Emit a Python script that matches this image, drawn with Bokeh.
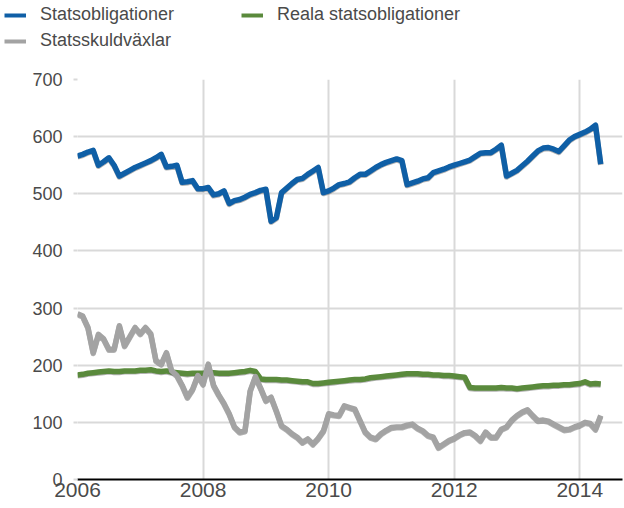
import numpy as np
from bokeh.plotting import figure
from bokeh.layouts import column
from bokeh.models import ColumnDataSource, FixedTicker, Legend, LegendItem, Range1d
from bokeh.transform import dodge
from bokeh.embed import file_html
from bokeh.resources import INLINE

start_year = 2006

statsobligationer = [
    566, 569, 573, 576, 550, 556, 563, 550, 531, 536,
    541, 546, 550, 554, 558, 563, 569, 547, 548, 550,
    520, 521, 523, 509, 509, 511, 498, 500, 505, 483,
    488, 490, 494, 499, 502, 506, 508, 452, 458, 502,
    510, 518, 525, 527, 534, 540, 546, 502, 505, 510,
    516, 518, 521, 528, 534, 534, 540, 546, 551, 555,
    558, 561, 558, 516, 519, 522, 526, 528, 537, 540,
    543, 547, 550, 553, 556, 559, 565, 571, 572, 572,
    578, 585, 531, 536, 541, 549, 557, 566, 575, 580,
    581, 578, 574, 584, 594, 600, 604, 608, 613, 620,
    552]

reala_statsobligationer = [
    183, 184, 186, 187, 188, 189, 190, 189, 189, 190,
    190, 190, 191, 191, 192, 190, 189, 190, 188, 187,
    186, 185, 186, 186, 186, 187, 187, 186, 186, 186,
    187, 188, 189, 191, 189, 176, 175, 175, 175, 174,
    174, 173, 172, 171, 171, 168, 168, 169, 170, 171,
    172, 173, 174, 175, 175, 176, 178, 179, 180, 181,
    182, 183, 184, 185, 185, 185, 184, 184, 183, 183,
    182, 182, 181, 180, 179, 161, 160, 160, 160, 160,
    160, 161, 160, 160, 159, 160, 161, 162, 163, 164,
    164, 165, 165, 166, 166, 167, 168, 171, 167, 168,
    167]

statsskuldvaxlar = [
    290, 286, 266, 222, 254, 246, 228, 228, 269, 234,
    250, 266, 255, 266, 255, 208, 202, 222, 190, 182,
    165, 144, 158, 182, 167, 202, 165, 148, 133, 115,
    92, 83, 85, 155, 180, 160, 138, 144, 120, 94,
    88, 80, 74, 65, 71, 62, 72, 85, 115, 113,
    112, 129, 126, 123, 103, 83, 74, 71, 80, 86,
    91, 92, 92, 95, 97, 90, 85, 77, 74, 56,
    62, 68, 72, 78, 82, 83, 77, 68, 83, 74,
    74, 88, 92, 104, 112, 118, 122, 112, 103, 104,
    102, 97, 92, 87, 88, 92, 95, 100, 98, 88,
    112]

x_ticks = [2006, 2008, 2010, 2012, 2014]
y_ticks = [0, 100, 200, 300, 400, 500, 600, 700]

series_names = ["Statsobligationer", "Reala statsobligationer", "Statsskuldväxlar"]
series_colors = ["#0f5fa6", "#5a8a3c", "#a3a3a3"]

months = np.arange(len(statsobligationer))
x = start_year + months / 12.0

FONT = "Liberation Sans"
TEXT = "#4a4a4a"

# ---------------- main chart ----------------
p = figure(width=624, height=453, output_backend="svg", toolbar_location=None,
           x_range=Range1d(2006, 2014.68), y_range=Range1d(0, 700),
           min_border_left=77, min_border_right=2, min_border_top=24, min_border_bottom=29)
p.outline_line_color = None
p.background_fill_color = "white"
p.border_fill_color = "white"

for name, vals, col in [("Reala statsobligationer", reala_statsobligationer, series_colors[1]),
                        ("Statsskuldväxlar", statsskuldvaxlar, series_colors[2]),
                        ("Statsobligationer", statsobligationer, series_colors[0])]:
    src = ColumnDataSource(dict(x=x, y=vals))
    p.line(x="x", y=dodge("y", -1.6, range=p.y_range), source=src,
           line_color="#555555", line_alpha=0.45, line_width=5.5, line_join="round")
    p.line(x="x", y="y", source=src, line_color=col, line_width=5.5, line_join="round")

p.xgrid.ticker = FixedTicker(ticks=x_ticks)
p.ygrid.ticker = FixedTicker(ticks=y_ticks)
for g in (p.xgrid[0], p.ygrid[0]):
    g.grid_line_color = "#d9d9d9"
    g.grid_line_width = 2
p.xgrid.level = "underlay"
p.ygrid.level = "underlay"

xa = p.xaxis[0]
xa.ticker = FixedTicker(ticks=x_ticks)
xa.axis_line_color = "black"
xa.axis_line_width = 2
xa.major_tick_out = 0
xa.major_tick_in = 0
xa.minor_tick_out = 0
xa.minor_tick_in = 0
xa.major_label_standoff = 3
xa.major_label_text_font = FONT
xa.major_label_text_font_size = "21px"
xa.major_label_text_color = TEXT

ya = p.yaxis[0]
ya.ticker = FixedTicker(ticks=y_ticks)
ya.axis_line_color = None
ya.major_tick_out = 4
ya.major_tick_in = 0
ya.major_tick_line_color = "#d9d9d9"
ya.major_tick_line_width = 2
ya.minor_tick_out = 0
ya.minor_tick_in = 0
ya.major_label_standoff = 11
ya.major_label_text_font = FONT
ya.major_label_text_font_size = "18px"
ya.major_label_text_color = TEXT

# ---------------- legend strip ----------------
lg = figure(width=624, height=55, output_backend="svg", toolbar_location=None,
            x_range=Range1d(0, 1), y_range=Range1d(0, 1),
            x_axis_type=None, y_axis_type=None,
            min_border_left=0, min_border_right=0, min_border_top=0, min_border_bottom=0)
lg.frame_align = False
lg.outline_line_color = None
lg.xgrid.visible = False
lg.ygrid.visible = False
legend_r = {}
for name, col in zip(series_names, series_colors):
    legend_r[name] = lg.line(x=[np.nan, np.nan], y=[np.nan, np.nan], line_color=col, line_width=4)

legend = Legend(items=[LegendItem(label=series_names[0], renderers=[legend_r[series_names[0]]]),
                       LegendItem(label=series_names[2], renderers=[legend_r[series_names[2]]]),
                       LegendItem(label=series_names[1], renderers=[legend_r[series_names[1]]])],
                location=(4, 4), orientation="vertical", ncols=2,
                padding=0, margin=0, spacing=5,
                glyph_width=22, glyph_height=20, label_height=20, label_width=196,
                label_standoff=14,
                label_text_font=FONT, label_text_font_size="18px", label_text_color=TEXT,
                border_line_color=None, background_fill_alpha=0)
lg.add_layout(legend, "center")

layout = column(lg, p, spacing=0)
open("out.html", "w").write(file_html(layout, INLINE))
